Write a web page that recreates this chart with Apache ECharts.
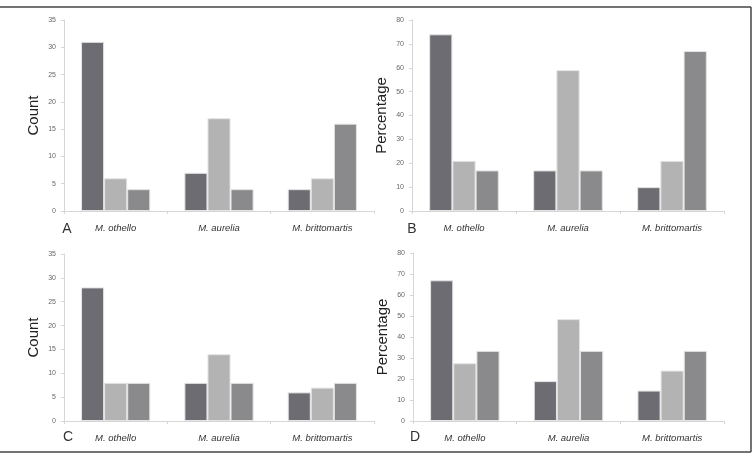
<!DOCTYPE html>
<html>
<head>
<meta charset="utf-8">
<script src="https://cdn.jsdelivr.net/npm/echarts@6/dist/echarts.min.js"></script>
<style>
	html, body { margin: 0; padding: 0; background: #fff; }
	#main { width: 756px; height: 454px; }
</style>
</head>
<body>
<div id="main"></div>
<script>
	var species = ['M. othello', 'M. aurelia', 'M. brittomartis'];

	// panel A: counts
	var countA1 = [31, 7, 4];
	var countA2 = [6, 17, 6];
	var countA3 = [4, 4, 16];

	// panel B: percentages
	var pctB1 = [74, 17, 10];
	var pctB2 = [21, 59, 21];
	var pctB3 = [17, 17, 67];

	// panel C: counts
	var countC1 = [28, 8, 6];
	var countC2 = [8, 14, 7];
	var countC3 = [8, 8, 8];

	// panel D: percentages
	var pctD1 = [67, 19, 14.5];
	var pctD2 = [27.5, 48.5, 24];
	var pctD3 = [33.4, 33.4, 33.4];

	var colors = ['#6c6c72', '#b3b3b4', '#8a8a8d'];
	var font = '"Liberation Sans", Arial, sans-serif';

	var panels = [
		{ grid: { left: 64, top: 20, width: 310, height: 191 }, max: 35, interval: 5, name: 'Count', data: [countA1, countA2, countA3] },
		{ grid: { left: 412, top: 20, width: 312, height: 191 }, max: 80, interval: 10, name: 'Percentage', data: [pctB1, pctB2, pctB3] },
		{ grid: { left: 64, top: 254, width: 310, height: 167 }, max: 35, interval: 5, name: 'Count', data: [countC1, countC2, countC3] },
		{ grid: { left: 413, top: 253, width: 311, height: 168 }, max: 80, interval: 10, name: 'Percentage', data: [pctD1, pctD2, pctD3] }
	];

	var grids = [], xAxes = [], yAxes = [], series = [];

	panels.forEach(function (p, i) {
		grids.push(p.grid);
		xAxes.push({
			type: 'category',
			gridIndex: i,
			data: species,
			axisLine: { lineStyle: { color: '#d6d6d6', width: 1 } },
			axisTick: { show: true, length: 3, lineStyle: { color: '#d6d6d6' } },
			axisLabel: {
				margin: 12,
				fontSize: 9.5,
				fontStyle: 'italic',
				color: '#333',
				fontFamily: font
			}
		});
		yAxes.push({
			type: 'value',
			gridIndex: i,
			min: 0,
			max: p.max,
			interval: p.interval,
			name: p.name,
			nameLocation: 'middle',
			nameGap: 23,
			nameTextStyle: { fontSize: 15, color: '#222', fontFamily: font },
			splitLine: { show: false },
			axisLine: { show: true, lineStyle: { color: '#d6d6d6', width: 1 } },
			axisTick: { show: true, length: 3, lineStyle: { color: '#d6d6d6' } },
			axisLabel: { fontSize: 7, color: '#666', margin: 8, fontFamily: font }
		});
		p.data.forEach(function (vals, k) {
			series.push({
				type: 'bar',
				xAxisIndex: i,
				yAxisIndex: i,
				data: vals,
				barGap: '0%',
				barCategoryGap: '33%',
				itemStyle: { color: colors[k], borderColor: '#e4e4e4', borderWidth: 1 },
				silent: true,
				animation: false
			});
		});
	});

	var letters = [
		{ t: 'A', x: 67, y: 229 },
		{ t: 'B', x: 412, y: 229 },
		{ t: 'C', x: 68, y: 437 },
		{ t: 'D', x: 415, y: 437 }
	];

	var graphics = letters.map(function (l) {
		return {
			type: 'text',
			x: l.x,
			y: l.y,
			style: { text: l.t, fontSize: 14, fill: '#333', font: '14px ' + font, textAlign: 'center', textVerticalAlign: 'middle' }
		};
	});

	// figure frame
	graphics.push({ type: 'line', shape: { x1: 0, y1: 7, x2: 751, y2: 7 }, style: { stroke: '#444', lineWidth: 1.5 } });
	graphics.push({ type: 'line', shape: { x1: 751, y1: 7, x2: 751, y2: 452 }, style: { stroke: '#444', lineWidth: 1.5 } });
	graphics.push({ type: 'line', shape: { x1: 0, y1: 452, x2: 751, y2: 452 }, style: { stroke: '#444', lineWidth: 1.5 } });

	var chart = echarts.init(document.getElementById('main'));
	chart.setOption({
		animation: false,
		backgroundColor: '#fff',
		grid: grids,
		xAxis: xAxes,
		yAxis: yAxes,
		series: series,
		graphic: graphics
	});
</script>
</body>
</html>
